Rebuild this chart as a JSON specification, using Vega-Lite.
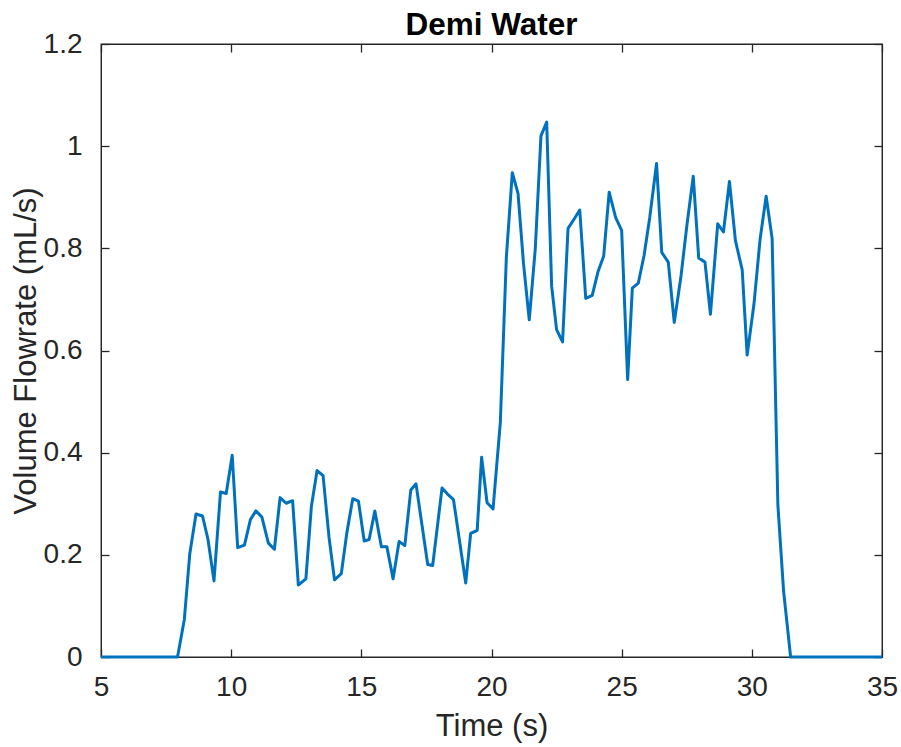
{
  "$schema": "https://vega.github.io/schema/vega-lite/v6.json",
  "width": 781,
  "height": 613,
  "autosize": {"type": "none"},
  "padding": {"left": 101, "top": 44, "right": 19, "bottom": 90},
  "background": "white",
  "title": {"text": "Demi Water", "fontSize": 31.5, "fontWeight": "bold", "font": "Liberation Sans", "color": "#000000", "offset": -11, "anchor": "middle"},
  "config": {
    "view": {"stroke": "#262626", "strokeWidth": 1.3},
    "axis": {"grid": false, "domain": true, "domainColor": "#262626", "tickColor": "#262626", "labelColor": "#262626", "titleColor": "#262626", "labelFont": "Liberation Sans", "titleFont": "Liberation Sans", "labelFontSize": 28, "titleFontSize": 31, "titleFontWeight": "normal", "tickSize": -8, "tickWidth": 1.3, "labelFlush": false, "labelOverlap": false}
  },
  "data": {"values": [
    {"t": 5, "q": 0}, {"t": 7.94, "q": 0}, {"t": 8.2, "q": 0.073}, {"t": 8.41, "q": 0.202}, {"t": 8.65, "q": 0.28}, {"t": 8.9, "q": 0.276}, {"t": 9.11, "q": 0.23}, {"t": 9.34, "q": 0.149}, {"t": 9.59, "q": 0.323}, {"t": 9.81, "q": 0.32}, {"t": 10.04, "q": 0.395}, {"t": 10.25, "q": 0.214}, {"t": 10.51, "q": 0.219}, {"t": 10.74, "q": 0.269}, {"t": 10.95, "q": 0.286}, {"t": 11.18, "q": 0.274}, {"t": 11.43, "q": 0.223}, {"t": 11.66, "q": 0.211}, {"t": 11.88, "q": 0.312}, {"t": 12.11, "q": 0.301}, {"t": 12.36, "q": 0.306}, {"t": 12.58, "q": 0.141}, {"t": 12.87, "q": 0.153}, {"t": 13.08, "q": 0.294}, {"t": 13.3, "q": 0.365}, {"t": 13.53, "q": 0.355}, {"t": 13.76, "q": 0.234}, {"t": 13.97, "q": 0.151}, {"t": 14.23, "q": 0.163}, {"t": 14.44, "q": 0.242}, {"t": 14.67, "q": 0.31}, {"t": 14.89, "q": 0.305}, {"t": 15.11, "q": 0.227}, {"t": 15.3, "q": 0.23}, {"t": 15.52, "q": 0.286}, {"t": 15.77, "q": 0.216}, {"t": 15.98, "q": 0.216}, {"t": 16.22, "q": 0.153}, {"t": 16.45, "q": 0.226}, {"t": 16.67, "q": 0.218}, {"t": 16.9, "q": 0.327}, {"t": 17.1, "q": 0.339}, {"t": 17.55, "q": 0.181}, {"t": 17.74, "q": 0.179}, {"t": 18.1, "q": 0.331}, {"t": 18.31, "q": 0.319}, {"t": 18.54, "q": 0.308}, {"t": 19.01, "q": 0.145}, {"t": 19.2, "q": 0.242}, {"t": 19.45, "q": 0.248}, {"t": 19.62, "q": 0.391}, {"t": 19.83, "q": 0.302}, {"t": 20.06, "q": 0.29}, {"t": 20.34, "q": 0.46}, {"t": 20.57, "q": 0.782}, {"t": 20.8, "q": 0.948}, {"t": 21.02, "q": 0.907}, {"t": 21.23, "q": 0.77}, {"t": 21.45, "q": 0.66}, {"t": 21.68, "q": 0.798}, {"t": 21.9, "q": 1.02}, {"t": 22.12, "q": 1.047}, {"t": 22.31, "q": 0.726}, {"t": 22.5, "q": 0.641}, {"t": 22.73, "q": 0.617}, {"t": 22.94, "q": 0.839}, {"t": 23.17, "q": 0.857}, {"t": 23.39, "q": 0.875}, {"t": 23.62, "q": 0.702}, {"t": 23.87, "q": 0.708}, {"t": 24.09, "q": 0.754}, {"t": 24.31, "q": 0.785}, {"t": 24.52, "q": 0.91}, {"t": 24.77, "q": 0.86}, {"t": 25.0, "q": 0.835}, {"t": 25.23, "q": 0.543}, {"t": 25.41, "q": 0.722}, {"t": 25.64, "q": 0.732}, {"t": 25.86, "q": 0.786}, {"t": 26.08, "q": 0.861}, {"t": 26.34, "q": 0.966}, {"t": 26.54, "q": 0.792}, {"t": 26.79, "q": 0.773}, {"t": 27.02, "q": 0.655}, {"t": 27.28, "q": 0.746}, {"t": 27.51, "q": 0.847}, {"t": 27.75, "q": 0.941}, {"t": 27.96, "q": 0.781}, {"t": 28.2, "q": 0.773}, {"t": 28.41, "q": 0.671}, {"t": 28.69, "q": 0.848}, {"t": 28.91, "q": 0.832}, {"t": 29.14, "q": 0.931}, {"t": 29.37, "q": 0.815}, {"t": 29.63, "q": 0.758}, {"t": 29.82, "q": 0.591}, {"t": 30.08, "q": 0.69}, {"t": 30.32, "q": 0.819}, {"t": 30.55, "q": 0.902}, {"t": 30.78, "q": 0.819}, {"t": 31.0, "q": 0.298}, {"t": 31.22, "q": 0.129}, {"t": 31.49, "q": 0}, {"t": 35, "q": 0}
  ]},
  "layer": [
    {
      "mark": {"type": "line", "color": "#0072BD", "strokeWidth": 3, "strokeJoin": "round"},
      "encoding": {
        "x": {"field": "t", "type": "quantitative", "scale": {"domain": [5, 35], "nice": false, "zero": false}, "axis": {"orient": "bottom", "title": "Time (s)", "values": [5, 10, 15, 20, 25, 30, 35], "labelPadding": 24, "titlePadding": 10}},
        "y": {"field": "q", "type": "quantitative", "scale": {"domain": [0, 1.2], "nice": false}, "axis": {"orient": "left", "title": "Volume Flowrate (mL/s)", "values": [0, 0.2, 0.4, 0.6, 0.8, 1, 1.2], "format": ".1~f", "labelPadding": 27, "titlePadding": 1}}
      }
    },
    {
      "mark": {"type": "line", "strokeOpacity": 0},
      "encoding": {
        "x": {"field": "t", "type": "quantitative", "axis": {"orient": "top", "title": null, "labels": false, "values": [5, 10, 15, 20, 25, 30, 35]}},
        "y": {"field": "q", "type": "quantitative", "axis": {"orient": "right", "title": null, "labels": false, "values": [0, 0.2, 0.4, 0.6, 0.8, 1, 1.2]}}
      }
    }
  ],
  "resolve": {"axis": {"x": "independent", "y": "independent"}}
}
